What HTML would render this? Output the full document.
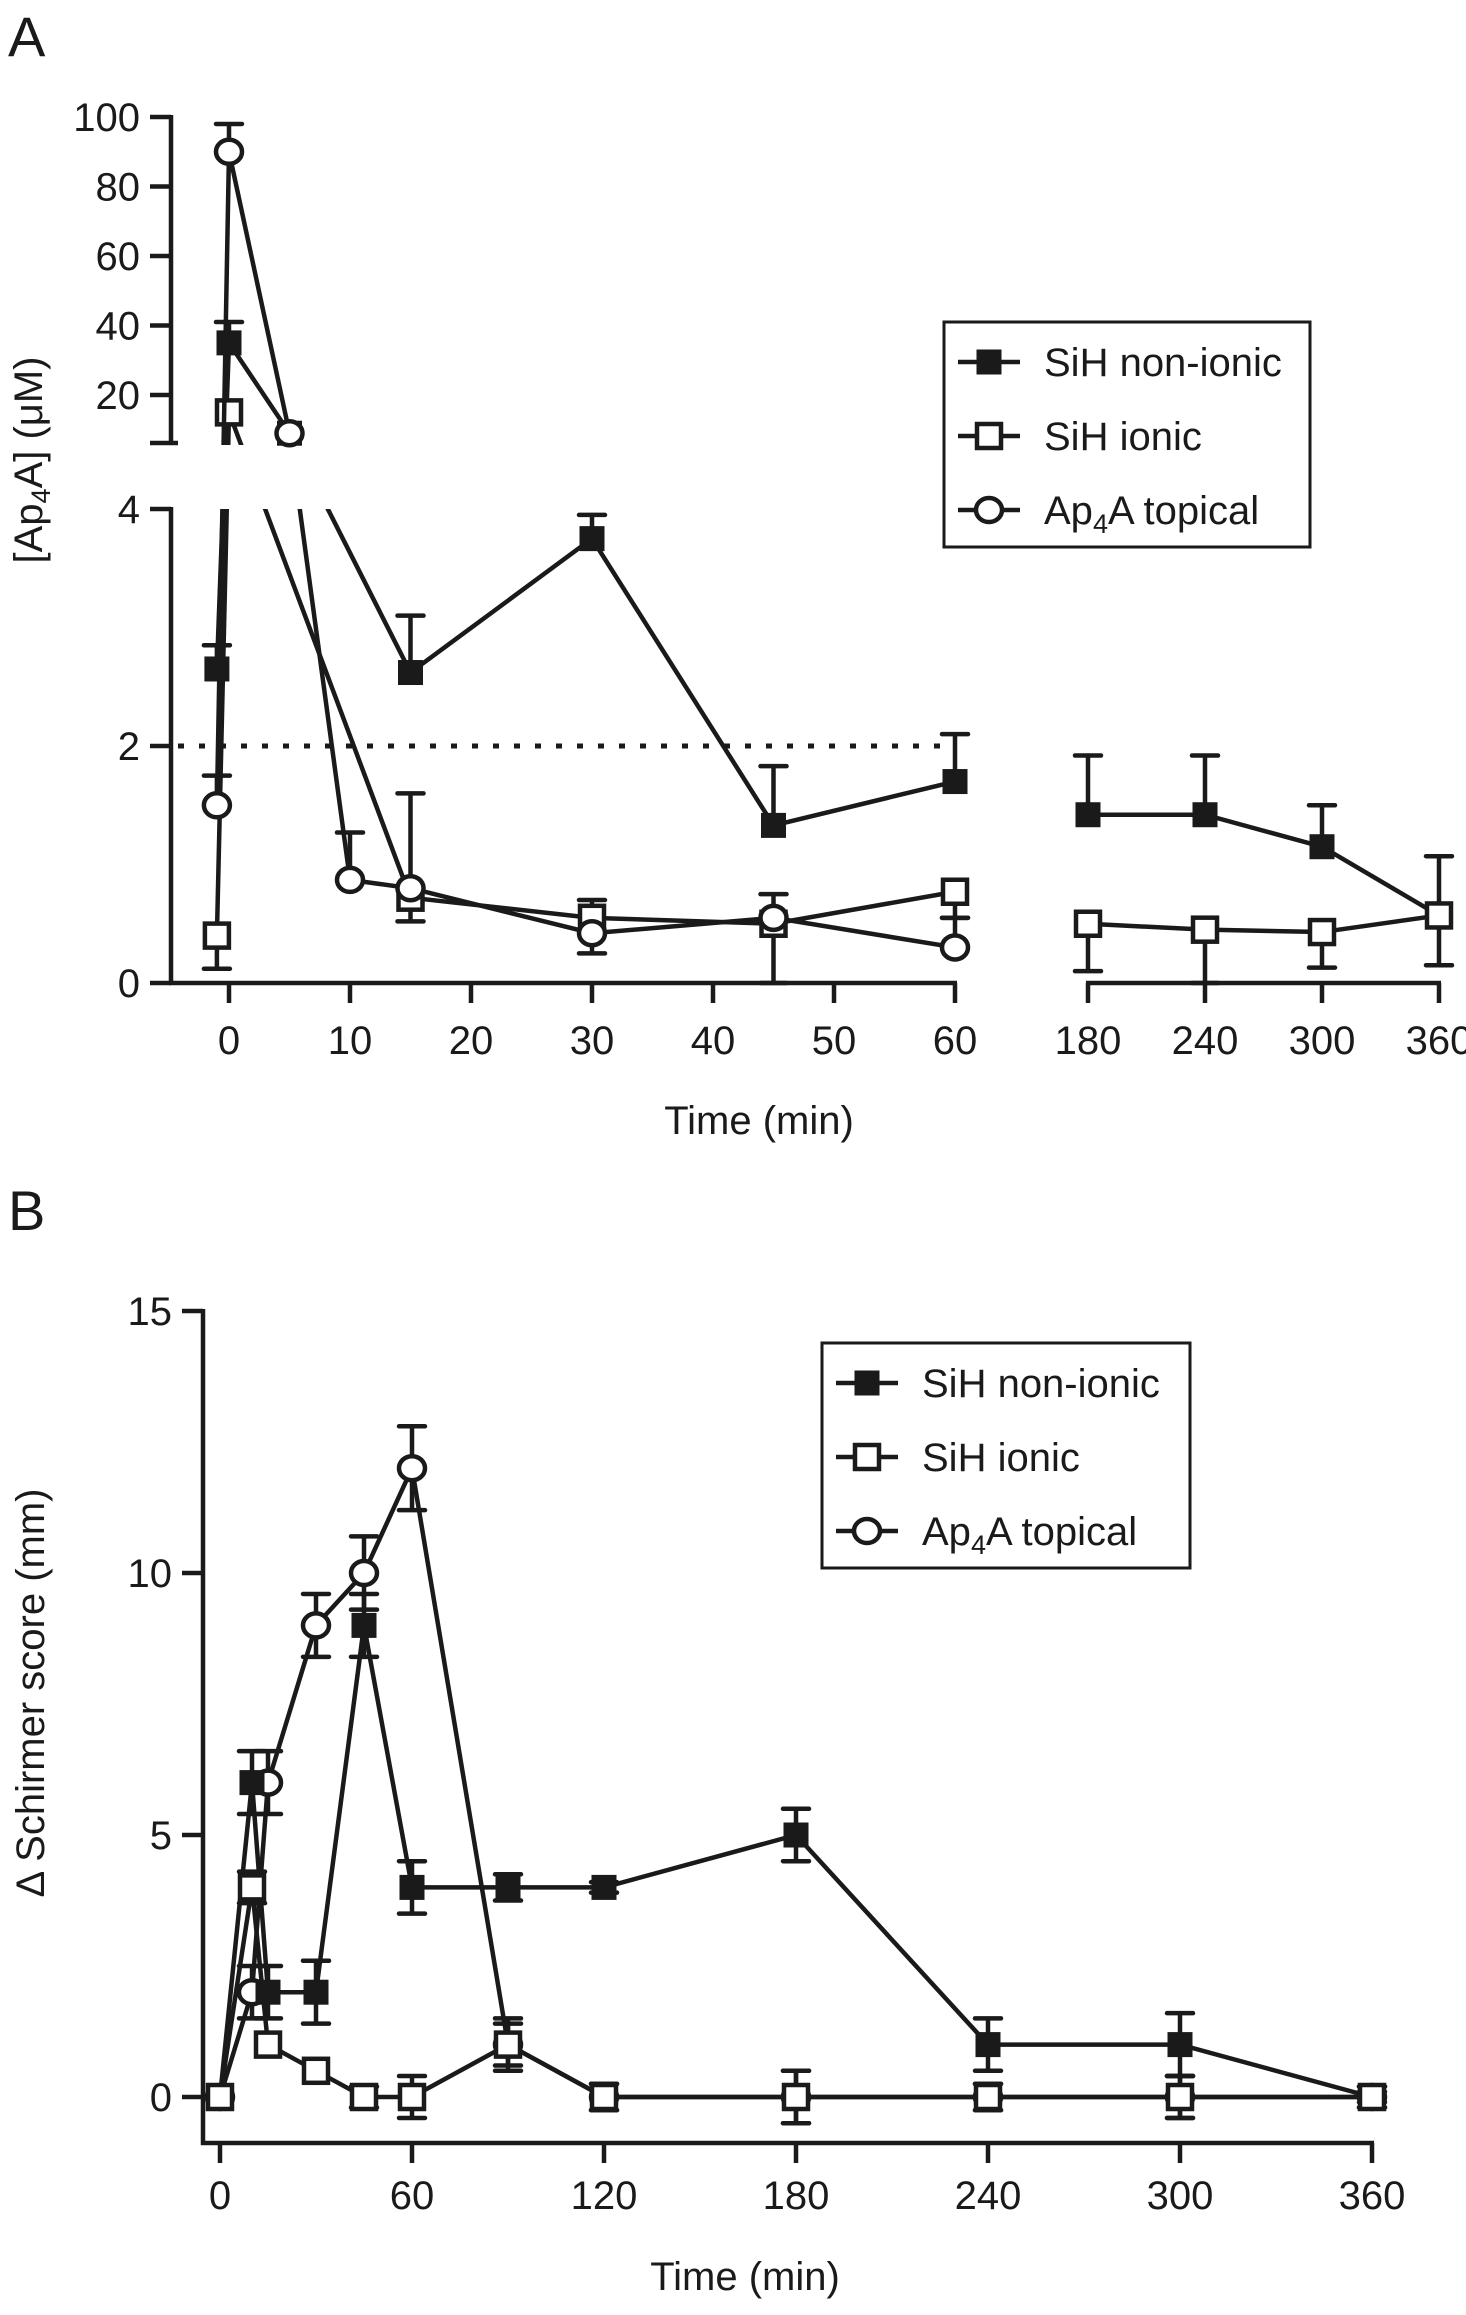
<!DOCTYPE html>
<html><head><meta charset="utf-8">
<style>
html,body{margin:0;padding:0;background:#fff;}
svg{display:block;}
text{font-family:"Liberation Sans",Arial,sans-serif;fill:#1a1a1a;}
.narrow{font-family:"Liberation Sans Narrow","Liberation Sans",sans-serif;}
</style></head>
<body>
<svg id="fig" width="1466" height="2315" viewBox="0 0 1466 2315" xmlns="http://www.w3.org/2000/svg">
<text x="8" y="56" font-size="56">A</text>
<text x="8" y="1230" font-size="56">B</text>
<g id="A"></g>
<g id="B"></g>
</svg>
<script>
// ---------- Panel A data ----------
const aTimesLeft = [-1, 0, 5, 10, 15, 30, 45, 60];
const aNonIonicT = [-1, 0, 5, 15, 30, 45, 60, 180, 240, 300, 360];
const aNonIonicV = [2.65, 35, 9, 2.62, 3.75, 1.33, 1.7, 1.42, 1.42, 1.15, 0.57];
const aNonIonicUp = [0.2, 6, 0, 0.48, 0.2, 0.5, 0.4, 0.5, 0.5, 0.35, 0.5];
const aNonIonicDn = [0, 0, 0, 0, 0, 0, 0, 0, 0, 0, 0.42];
const aIonicT = [-1, 0, 15, 30, 45, 60, 180, 240, 300, 360];
const aIonicV = [0.4, 15, 0.72, 0.55, 0.5, 0.77, 0.5, 0.45, 0.43, 0.57];
const aIonicUp = [0, 0, 0, 0.15, 0, 0, 0, 0, 0, 0];
const aIonicDn = [0.28, 0, 0.2, 0, 0.5, 0.22, 0.4, 0.45, 0.3, 0];
const aTopicalT = [-1, 0, 5, 10, 15, 30, 45, 60];
const aTopicalV = [1.5, 90, 9, 0.87, 0.8, 0.42, 0.55, 0.3];
const aTopicalUp = [0.25, 8, 0, 0.4, 0.8, 0, 0.2, 0.25];
const aTopicalDn = [0, 0, 0, 0, 0, 0.17, 0, 0];
const aLeftTicks = [0, 10, 20, 30, 40, 50, 60];
const aRightTicks = [180, 240, 300, 360];
const aUpperTicks = [20, 40, 60, 80, 100];
const aLowerTicks = [0, 2, 4];
const aThreshold = 2;
// ---------- Panel B data ----------
const bTicks = [0, 60, 120, 180, 240, 300, 360];
const bYTicks = [0, 5, 10, 15];
const bNonIonicT = [0, 10, 15, 30, 45, 60, 90, 120, 180, 240, 300, 360];
const bNonIonicV = [0, 6, 2, 2, 9, 4, 4, 4, 5, 1, 1, 0];
const bNonIonicE = [0, 0.6, 0.5, 0.6, 0.6, 0.5, 0.25, 0.1, 0.5, 0.5, 0.6, 0.1];
const bIonicT = [0, 10, 15, 30, 45, 60, 90, 120, 180, 240, 300, 360];
const bIonicV = [0, 4, 1, 0.5, 0, 0, 1, 0, 0, 0, 0, 0];
const bIonicE = [0, 0.3, 0, 0, 0.2, 0.4, 0.4, 0.25, 0.5, 0.25, 0.4, 0.2];
const bTopicalT = [0, 10, 15, 30, 45, 60, 90, 120, 180, 240, 300, 360];
const bTopicalV = [0, 2, 6, 9, 10, 12, 1, 0, 0, 0, 0, 0];
const bTopicalE = [0, 0.5, 0.6, 0.6, 0.7, 0.8, 0.5, 0.25, 0.5, 0.25, 0.4, 0.2];

const NS = "http://www.w3.org/2000/svg";
function mk(parent, tag, attrs) {
  const e = document.createElementNS(NS, tag);
  for (const k in attrs) e.setAttribute(k, attrs[k]);
  parent.appendChild(e);
  return e;
}
const SW = 4.5;
const FS = 40;

// ---------- Panel A axes ----------
const xA = t => t <= 60 ? 229 + t * 12.1 : 1088 + (t - 180) * 1.95;
const yA = v => v <= 4 ? 983 - v * 118.5 : 117 + (100 - v) * 3.475;
const A = document.getElementById('A');

function marker(g, kind, x, y) {
  let m;
  if (kind === 'circle') m = mk(g, 'ellipse', {cx: x, cy: y, rx: 13, ry: 12, fill: '#fff', stroke: '#1a1a1a', 'stroke-width': SW});
  else m = mk(g, 'rect', {x: x - 12, y: y - 12, width: 24, height: 24, fill: kind === 'filled' ? '#1a1a1a' : '#fff', stroke: '#1a1a1a', 'stroke-width': kind === 'filled' ? 1 : SW});
  
  
}
function errbar(g, x, y1, y2) {
  const l = mk(g, 'line', {x1: x, x2: x, y1: y1, y2: y2, stroke: '#1a1a1a', 'stroke-width': SW});
  
  
  const c = mk(g, 'line', {x1: x - 13, x2: x + 13, y1: y2, y2: y2, stroke: '#1a1a1a', 'stroke-width': SW, 'stroke-linecap': 'round'});
  
  
}

const defs = mk(A, 'defs', {});
const cpLow = mk(defs, 'clipPath', {id: 'cLow'});
mk(cpLow, 'rect', {x: 0, y: 509, width: 1466, height: 520});
const cpUp = mk(defs, 'clipPath', {id: 'cUp'});
mk(cpUp, 'rect', {x: 0, y: 0, width: 1466, height: 445});

function ln(g, x1, y1, x2, y2, name, w) {
  const l = mk(g, 'line', {x1, y1, x2, y2, stroke: '#1a1a1a', 'stroke-width': w || SW});
  
  
  return l;
}
ln(A, 171, 115, 171, 445, 'y-axis-upper');
ln(A, 171, 507, 171, 985, 'y-axis-lower');
ln(A, 150, 443, 178, 443, 'y-axis-break-tick');
aUpperTicks.concat(aLowerTicks).forEach(v => {
  ln(A, 150, yA(v), 171, yA(v), 'y-tick');
  const t = mk(A, 'text', {x: 140, y: yA(v) + 14, 'font-size': FS, 'text-anchor': 'end'});
  t.textContent = v;
  
  
});
ln(A, 169, 983, xA(60) + 2, 983, 'x-axis-left');
ln(A, xA(180) - 2, 983, xA(360) + 2, 983, 'x-axis-right');
aLeftTicks.concat(aRightTicks).forEach(v => {
  ln(A, xA(v), 983, xA(v), 1003, 'x-tick');
  const t = mk(A, 'text', {x: xA(v), y: 1054, 'font-size': FS, 'text-anchor': 'middle'});
  t.textContent = v;
  
  
});
const xtA = mk(A, 'text', {x: 759, y: 1134, 'font-size': FS, 'text-anchor': 'middle'});
xtA.textContent = 'Time (min)';


const ytA = mk(A, 'text', {x: 0, y: 0, 'font-size': 40, 'text-anchor': 'middle', transform: 'translate(42,460) rotate(-90)', class: 'narrow'});
ytA.innerHTML = '[Ap<tspan font-size="27" dy="8">4</tspan><tspan dy="-8">A] (μM)</tspan>';


const th = mk(A, 'line', {x1: 178, x2: xA(60), y1: yA(aThreshold), y2: yA(aThreshold), stroke: '#1a1a1a', 'stroke-width': 5, 'stroke-dasharray': '6 15'});



function seriesA(name, kind, T, V, Up, Dn) {
  const g = mk(A, 'g', {});
  
  
  const left = [], right = [];
  T.forEach((t, i) => (t <= 60 ? left : right).push([xA(t), yA(V[i])]));
  [left, right].forEach(pts => {
    if (pts.length < 2) return;
    const d = pts.map(p => p.join(',')).join(' ');
    ['cLow', 'cUp'].forEach(cp => {
      const pl = mk(g, 'polyline', {points: d, fill: 'none', stroke: '#1a1a1a', 'stroke-width': SW, 'clip-path': 'url(#' + cp + ')'});
      
      
    });
  });
  T.forEach((t, i) => {
    const x = xA(t), v = V[i];
    if (Up[i] > 0) errbar(g, x, yA(v), yA(v + Up[i]));
    if (Dn[i] > 0) errbar(g, x, yA(v), yA(v - Dn[i]));
  });
  T.forEach((t, i) => marker(g, kind, xA(t), yA(V[i])));
}
seriesA('sih-non-ionic-series', 'filled', aNonIonicT, aNonIonicV, aNonIonicUp, aNonIonicDn);
seriesA('sih-ionic-series', 'open', aIonicT, aIonicV, aIonicUp, aIonicDn);
seriesA('ap4a-topical-series', 'circle', aTopicalT, aTopicalV, aTopicalUp, aTopicalDn);

function legend(parent, x, y, w, h, name) {
  const g = mk(parent, 'g', {});
  
  
  const r = mk(g, 'rect', {x, y, width: w, height: h, fill: '#fff', stroke: '#1a1a1a', 'stroke-width': 3});
  
  
  const items = [['filled', 'SiH non-ionic'], ['open', 'SiH ionic'], ['circle', 'Ap<tspan font-size="27" dy="9">4</tspan><tspan dy="-9">A topical</tspan>']];
  items.forEach((it, i) => {
    const cy = y + 40 + i * 74;
    ln(g, x + 14, cy, x + 76, cy, 'legend-line');
    marker(g, it[0], x + 45, cy);
    const t = mk(g, 'text', {x: x + 100, y: cy + 14, 'font-size': FS});
    t.innerHTML = it[1];
    
    
  });
}
legend(A, 944, 322, 366, 225, 'legend-a');

// ---------- Panel B ----------
const B = document.getElementById('B');
const xB = t => 220 + t * 3.2;
const yB = v => 2097 - v * 52.4;
ln(B, 203, 1309, 203, 2145, 'y-axis');
ln(B, 201, 2143, xB(360) + 2, 2143, 'x-axis');
bYTicks.forEach(v => {
  ln(B, 182, yB(v), 203, yB(v), 'y-tick');
  const t = mk(B, 'text', {x: 172, y: yB(v) + 14, 'font-size': FS, 'text-anchor': 'end'});
  t.textContent = v;
  
  
});
bTicks.forEach(v => {
  ln(B, xB(v), 2143, xB(v), 2163, 'x-tick');
  const t = mk(B, 'text', {x: xB(v), y: 2209, 'font-size': FS, 'text-anchor': 'middle'});
  t.textContent = v;
  
  
});
const xtB = mk(B, 'text', {x: 745, y: 2290, 'font-size': FS, 'text-anchor': 'middle'});
xtB.textContent = 'Time (min)';


const ytB = mk(B, 'text', {x: 0, y: 0, 'font-size': 40, 'text-anchor': 'middle', transform: 'translate(44,1693) rotate(-90)', class: 'narrow'});
ytB.textContent = 'Δ Schirmer score (mm)';



function seriesB(name, kind, T, V, E) {
  const g = mk(B, 'g', {});
  
  
  const pl = mk(g, 'polyline', {points: T.map((t, i) => xB(t) + ',' + yB(V[i])).join(' '), fill: 'none', stroke: '#1a1a1a', 'stroke-width': SW});
  
  
  T.forEach((t, i) => {
    if (E[i] > 0) {
      errbar(g, xB(t), yB(V[i]), yB(V[i] + E[i]));
      errbar(g, xB(t), yB(V[i]), yB(V[i] - E[i]));
    }
  });
  T.forEach((t, i) => marker(g, kind, xB(t), yB(V[i])));
}
seriesB('ap4a-topical-series', 'circle', bTopicalT, bTopicalV, bTopicalE);
seriesB('sih-non-ionic-series', 'filled', bNonIonicT, bNonIonicV, bNonIonicE);
seriesB('sih-ionic-series', 'open', bIonicT, bIonicV, bIonicE);
legend(B, 822, 1343, 368, 225, 'legend-b');
</script>
</body></html>
